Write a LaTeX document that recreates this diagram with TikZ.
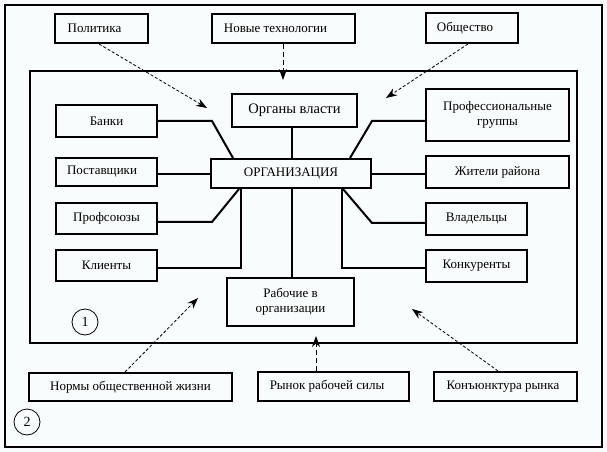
\documentclass[tikz,border=0pt]{standalone}
\usepackage{fontspec}
\setmainfont{Liberation Serif}
\usetikzlibrary{arrows.meta}
\definecolor{bg}{RGB}{248,252,252}
\begin{document}
\begin{tikzpicture}[x=1bp,y=-1bp,
  box/.style={draw, line width=2bp, fill=bg, inner sep=0pt, align=center,
    font=\fontsize{13bp}{15bp}\selectfont},
  conn/.style={line width=2bp},
  frame/.style={draw, line width=2bp},
  numc/.style={draw, circle, line width=0.8bp, minimum size=26bp, inner sep=0pt,
    font=\fontsize{14bp}{16bp}\selectfont},
  fdash/.style={line width=0.8bp, dash pattern=on 3bp off 2bp,
    -{Stealth[length=11bp,width=8bp]}},
  vdash/.style={line width=1bp, dash pattern=on 5bp off 3bp,
    -{Stealth[length=11bp,width=8bp]}}
]
\fill[bg] (0,0) rectangle (607,452);
\useasboundingbox (0,0) rectangle (607,452);
\draw[frame] (5,5) rectangle (602,447);
\draw[frame] (30,71) rectangle (577,343);

% top boxes
\node[box, minimum width=93bp, minimum height=29bp] (pol) at (101.5,28.5) {Политика\hspace*{14bp}};
\node[box, minimum width=143bp, minimum height=29bp] (nt) at (283.5,28.5) {Новые технологии\hspace*{16bp}};
\node[box, minimum width=92bp, minimum height=30bp] (ob) at (472,28) {Общество\hspace*{14bp}};

% inner boxes
\node[box, minimum width=125bp, minimum height=33bp, font=\fontsize{14.5bp}{16bp}\selectfont] (vl) at (294.5,110.5) {Органы власти};
\node[box, minimum width=101bp, minimum height=32bp] (bank) at (106.5,121) {Банки};
\node[box, minimum width=143bp, minimum height=52bp] (prof) at (497.5,115) {Профессиональные\\группы};
\node[box, minimum width=160bp, minimum height=29bp] (orgn) at (291,173.5) {ОРГАНИЗАЦИЯ};
\node[box, minimum width=101bp, minimum height=28bp] (post) at (106.5,172) {Поставщики\hspace*{9bp}};
\node[box, minimum width=143bp, minimum height=32bp] (zhit) at (497.5,172) {Жители района};
\node[box, minimum width=101bp, minimum height=31bp] (profs) at (106.5,218.5) {Профсоюзы};
\node[box, minimum width=101bp, minimum height=32bp] (vlad) at (476.5,219) {Владельцы};
\node[box, minimum width=101bp, minimum height=31bp] (klient) at (106.5,265.5) {Клиенты};
\node[box, minimum width=101bp, minimum height=32bp] (konk) at (476.5,266) {Конкуренты};
\node[box, minimum width=127bp, minimum height=48bp] (rab) at (290.5,302) {Рабочие в\\организации};

% bottom boxes
\node[box, minimum width=203bp, minimum height=28bp] (norm) at (130.5,387) {Нормы общественной жизни};
\node[box, minimum width=151bp, minimum height=29bp] (ryn) at (333.5,386.5) {Рынок рабочей силы\hspace*{13bp}};
\node[box, minimum width=143bp, minimum height=29bp] (konj) at (505.5,386.5) {Конъюнктура рынка\hspace*{5bp}};

% circles
\node[numc] (c1) at (85,322) {1};
\node[numc] (c2) at (27,422) {2};

% connectors
\coordinate (bk) at (212,121);
\draw[conn] (bank.east |- bk) -- (bk) -- (orgn.north west -| 233,0);
\draw[conn] (post.east |- 0,174) -- (orgn.west |- 0,174);
\coordinate (pk) at (212,222);
\draw[conn] (profs.east |- pk) -- (pk) -- (orgn.south west -| 239,0);
\coordinate (kk) at (241,268);
\draw[conn] (klient.east |- kk) -- (kk) -- (orgn.south west -| kk);
\draw[conn] (vl.south -| 292,0) -- (orgn.north -| 292,0);
\draw[conn] (orgn.south -| 292,0) -- (rab.north -| 292,0);
\coordinate (prk) at (372,121);
\draw[conn] (prof.west |- prk) -- (prk) -- (orgn.north east -| 350,0);
\draw[conn] (zhit.west |- 0,174) -- (orgn.east |- 0,174);
\coordinate (vk) at (372,223);
\draw[conn] (vlad.west |- vk) -- (vk) -- (orgn.south east -| 343,0);
\coordinate (kok) at (342,268);
\draw[conn] (konk.west |- kok) -- (kok) -- (orgn.south east -| kok);

% dashed arrows
\coordinate (pt) at (207,108);
\coordinate (ntt) at (283,80);
\coordinate (obt) at (386,98);
\coordinate (nmt) at (198,298);
\coordinate (ryt) at (316,336);
\coordinate (kjt) at (412,309);
\draw[fdash] (pol.south -| 99,0) -- (pt);
\draw[vdash] (nt.south -| ntt) -- (ntt);
\draw[fdash] (ob.south -| 468,0) -- (obt);
\draw[fdash] (norm.north -| 125,0) -- (nmt);
\draw[vdash] (ryn.north -| ryt) -- (ryt);
\draw[fdash] (konj.north -| 498,0) -- (kjt);
\end{tikzpicture}
\end{document}
